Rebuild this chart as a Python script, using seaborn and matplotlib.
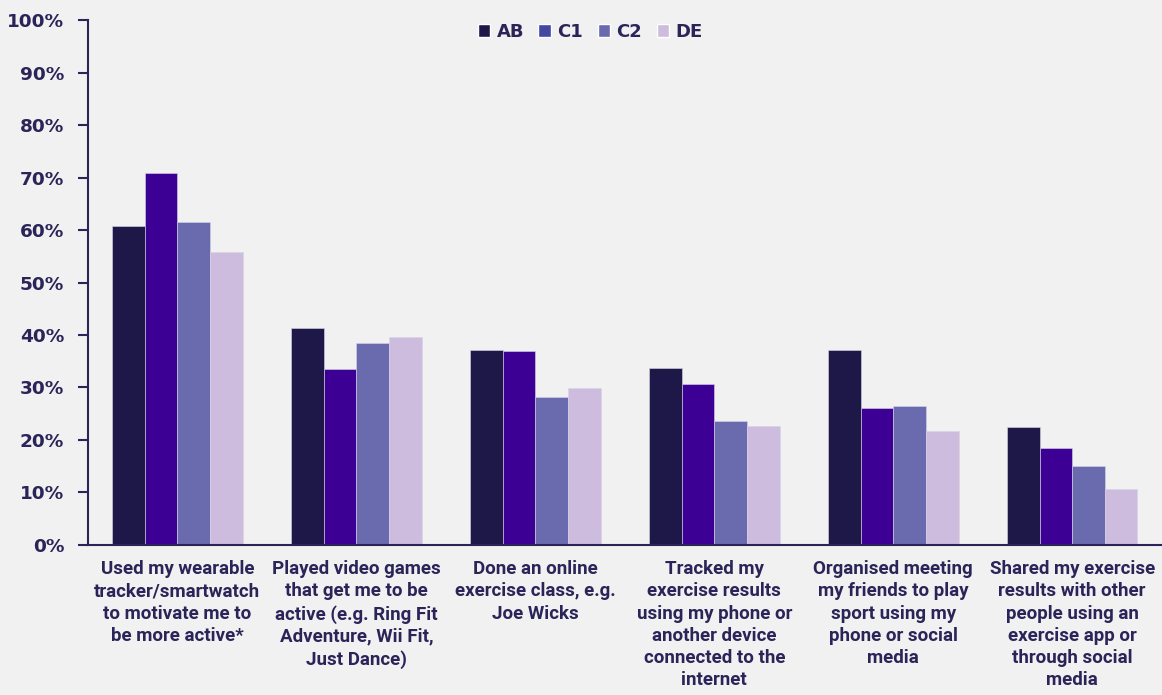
import matplotlib
matplotlib.use("Agg")
import matplotlib.pyplot as plt
from matplotlib.patches import Patch
import seaborn as sns
import pandas as pd

categories = [
    "Used my wearable\ntracker/smartwatch\nto motivate me to\nbe more active*",
    "Played video games\nthat get me to be\nactive (e.g. Ring Fit\nAdventure, Wii Fit,\nJust Dance)",
    "Done an online\nexercise class, e.g.\nJoe Wicks",
    "Tracked my\nexercise results\nusing my phone or\nanother device\nconnected to the\ninternet",
    "Organised meeting\nmy friends to play\nsport using my\nphone or social\nmedia",
    "Shared my exercise\nresults with other\npeople using an\nexercise app or\nthrough social\nmedia",
]
series = ["AB", "C1", "C2", "DE"]
ab = [60.7, 41.3, 37.2, 33.7, 37.1, 22.4]
c1 = [70.9, 33.5, 36.9, 30.6, 26.1, 18.5]
c2 = [61.6, 38.5, 28.2, 23.7, 26.4, 15.0]
de = [55.9, 39.7, 29.9, 22.6, 21.7, 10.7]
yticks = list(range(0, 101, 10))

values = {"AB": ab, "C1": c1, "C2": c2, "DE": de}
rows = []
for s in series:
    for c, v in zip(categories, values[s]):
        rows.append({"category": c, "group": s, "value": v})
df = pd.DataFrame(rows)

bar_colors = ["#1e1848", "#3d0094", "#6a6aae", "#cdbcdd"]
legend_colors = ["#1e1848", "#4348a0", "#6a6aae", "#cdbcdd"]
text_color = "#2a2458"
bg = "#f1f1f1"

sns.set_theme(style="white")
plt.rcParams["font.family"] = ["DejaVu Sans"]

fig = plt.figure(figsize=(11.62, 6.95), dpi=100, facecolor=bg)
ax = fig.add_axes([0.0757, 0.216, 0.924, 0.755])
ax.set_facecolor(bg)

sns.barplot(data=df, x="category", y="value", hue="group", hue_order=series,
            palette=bar_colors, saturation=1, width=0.73, ax=ax,
            edgecolor="#d8d4e8", linewidth=0.4, legend=False)

ax.set_ylim(0, 100)
ax.set_xlim(-0.5, 5.5)
ax.set_yticks(yticks)
ax.set_yticklabels([f"{v}%" for v in yticks], fontsize=13.3,
                   fontweight="bold", color=text_color, family="DejaVu Sans")
ax.set_xticks(range(len(categories)))
ax.set_xticklabels(categories, fontsize=13.5, fontweight="bold", color=text_color,
                   linespacing=1.3, va="top", family=["Roboto", "DejaVu Sans"])
ax.tick_params(axis="y", length=7, width=1.5, color=text_color, pad=10, left=True)
ax.tick_params(axis="x", length=0, pad=11)
ax.set_xlabel("")
ax.set_ylabel("")
for side in ["top", "right"]:
    ax.spines[side].set_visible(False)
for side in ["left", "bottom"]:
    ax.spines[side].set_color(text_color)
    ax.spines[side].set_linewidth(1.5)

handles = [Patch(facecolor=c, label=s) for c, s in zip(legend_colors, series)]
leg = fig.legend(handles=handles, loc="center", bbox_to_anchor=(0.508, 0.954),
                 ncol=4, frameon=False, handlelength=0.7, handleheight=0.7,
                 handletextpad=0.35, columnspacing=0.8,
                 prop={"size": 13, "weight": "bold", "family": "DejaVu Sans"})
for t in leg.get_texts():
    t.set_color(text_color)

fig.savefig("out.png", dpi=100, facecolor=bg)
